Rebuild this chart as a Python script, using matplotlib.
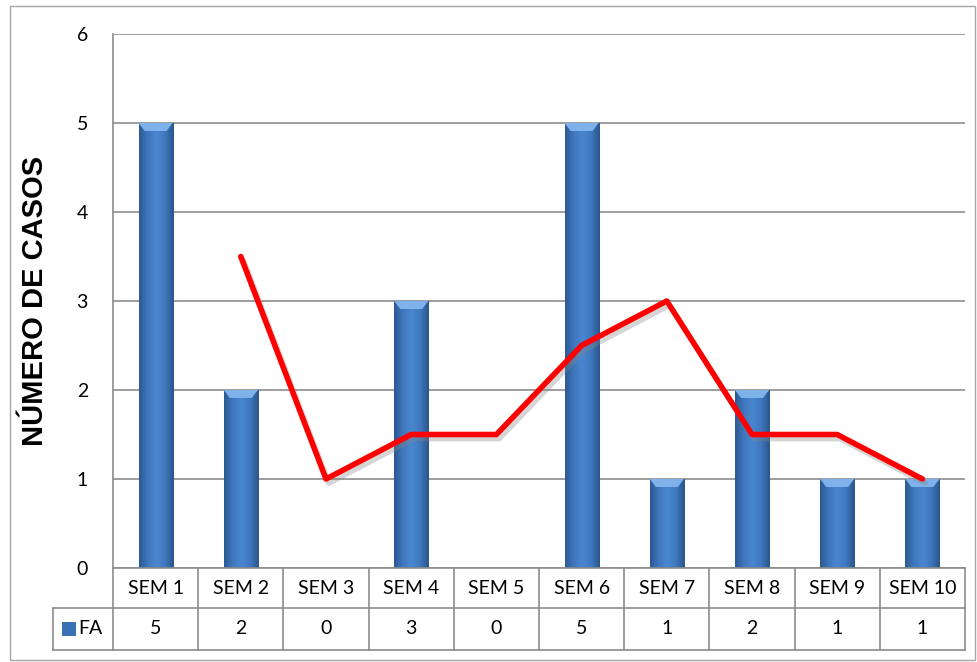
import numpy as np
import matplotlib.pyplot as plt
import matplotlib.patheffects as pe
from matplotlib.colors import LinearSegmentedColormap
from matplotlib.lines import Line2D
from matplotlib.patches import Rectangle

weeks = ["SEM 1", "SEM 2", "SEM 3", "SEM 4", "SEM 5",
         "SEM 6", "SEM 7", "SEM 8", "SEM 9", "SEM 10"]
fa = [5, 2, 0, 3, 0, 5, 1, 2, 1, 1]
# red trend line (2 week moving average), starts at SEM 2
trend = [None, 3.5, 1, 1.5, 1.5, 2.5, 3, 1.5, 1.5, 1]

plt.rcParams['font.family'] = ['Lato', 'DejaVu Sans']

W, H = 978, 662
fig = plt.figure(figsize=(W / 100, H / 100), dpi=100)

# outer chart border
fig.add_artist(Rectangle((10 / W, 1 - 660 / H), 965 / W, 654 / H, transform=fig.transFigure,
                         fill=False, ec="#a6a6a6", lw=1))

left, right, top, bottom = 113, 965, 34, 568
ax = fig.add_axes([left / W, 1 - bottom / H, (right - left) / W, (bottom - top) / H])

x = np.arange(len(weeks))
ax.set_xlim(-0.5, len(weeks) - 0.5)
ax.set_ylim(0, 6)
ax.set_yticks(range(7))
ax.yaxis.grid(True, color="#8c8c8c", lw=1.2)
ax.set_axisbelow(True)
ax.set_xticks([])
ax.tick_params(axis="y", length=0, pad=18, labelsize=14)
for s in ["top", "right", "bottom"]:
    ax.spines[s].set_visible(False)
ax.spines["left"].set_color("#8c8c8c")
ax.spines["left"].set_linewidth(1.2)

cmap = LinearSegmentedColormap.from_list("bar", ["#2c5a92", "#3f77bd", "#4a86d0", "#3f78be", "#2a568c"])
grad = np.linspace(0, 1, 64).reshape(1, -1)
bw = 0.4
bars = ax.bar(x, fa, width=bw, color="none", zorder=3)
for b, v in zip(bars, fa):
    if v == 0:
        continue
    bx, by = b.get_x(), b.get_y()
    im = ax.imshow(grad, cmap=cmap, aspect="auto", extent=[bx, bx + bw, by, by + v],
                   zorder=3, interpolation="bicubic")
    im.set_clip_path(b)
    # light cap on top
    ax.fill([bx, bx + bw, bx + bw * 0.82, bx + bw * 0.18], [v, v, v - 0.09, v - 0.09],
            color="#7fb2ea", zorder=4, lw=0)

tx = [i for i, t in zip(x, trend) if t is not None]
ty = [t for t in trend if t is not None]
ax.plot(tx, ty, color="#ff0000", lw=4, zorder=5, solid_joinstyle="round", solid_capstyle="round",
        path_effects=[pe.SimpleLineShadow(offset=(2, -3), shadow_color="#888888", alpha=0.35),
                      pe.Normal()])

ax.set_ylabel("NÚMERO DE CASOS", family="Liberation Sans", fontweight="bold", fontsize=21, labelpad=20)

# data table below the chart
col_w = (right - left) / len(weeks)
r1, r2, r3 = 568, 608, 650
lc = "#8c8c8c"
def fx(px):
    return px / W
def fy(py):
    return 1 - py / H
lines = [((left, right), (r1, r1)), ((53, right), (r2, r2)), ((53, right), (r3, r3)),
         ((53, 53), (r2, r3)), ((left, left), (r1, r3))]
for i in range(1, len(weeks) + 1):
    xx = left + i * col_w
    lines.append(((xx, xx), (r1, r3)))
for (xs, ys) in lines:
    fig.add_artist(Line2D([fx(p) for p in xs], [fy(p) for p in ys], color=lc, lw=1.2,
                          transform=fig.transFigure))
for i, (w, v) in enumerate(zip(weeks, fa)):
    cx = left + (i + 0.5) * col_w
    fig.text(fx(cx), fy((r1 + r2) / 2), w, ha="center", va="center", fontsize=14)
    fig.text(fx(cx), fy((r2 + r3) / 2), str(v), ha="center", va="center", fontsize=14)
fig.add_artist(Rectangle((fx(62), fy(636)), 14 / W, 14 / H, transform=fig.transFigure,
                         color="#3a70b4", lw=0))
fig.text(fx(78), fy((r2 + r3) / 2), "FA", ha="left", va="center", fontsize=14)

fig.savefig("out.png", dpi=100)
